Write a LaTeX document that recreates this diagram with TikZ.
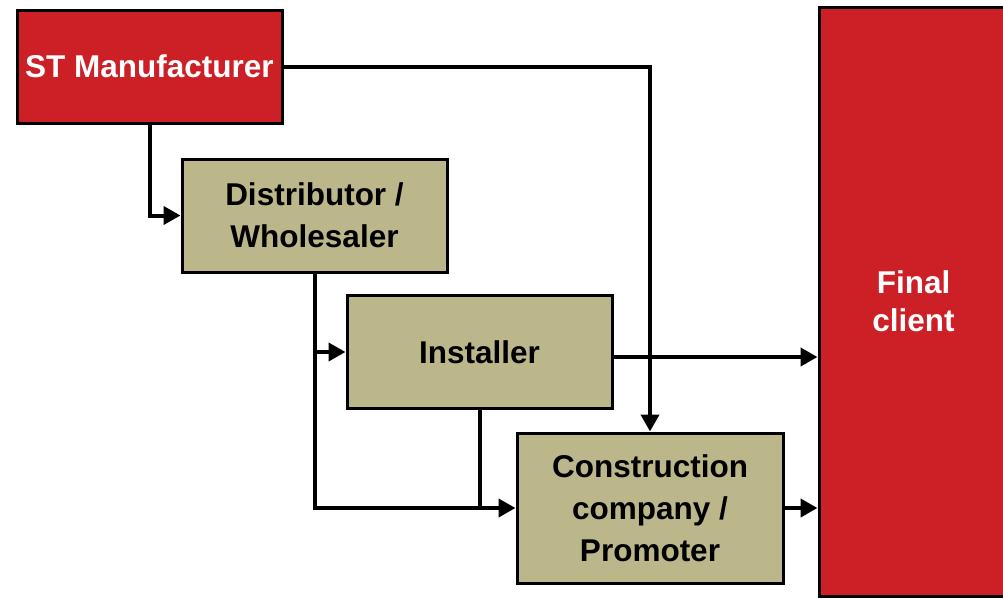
\documentclass[tikz,border=0pt]{standalone}
\usepackage{fontspec}
\setmainfont{Liberation Sans}
\usetikzlibrary{arrows.meta,calc}
\definecolor{stred}{HTML}{CC1F26}
\definecolor{khaki}{HTML}{BCB78A}
\tikzset{
  box/.style={draw=black, line width=3pt, inner sep=0pt, align=center,
    font=\fontsize{31.5}{42}\selectfont\bfseries},
  redbox/.style={box, fill=stred, text=white},
  tanbox/.style={box, fill=khaki, text=black},
  link/.style={draw=black, line width=4pt},
  arr/.style={link, -{Triangle[length=17pt,width=18pt]}},
}
\begin{document}
\begin{tikzpicture}[x=1pt,y=-1pt]
\useasboundingbox (0,0) rectangle (1003,597);
\begin{scope}
\clip (0,0) rectangle (1003,597);
\node[redbox, minimum width=189pt, minimum height=589pt,
  font=\fontsize{31.5}{38}\selectfont\bfseries] (fin) at (913.5,301.5) {Final\\client};
\end{scope}
\node[redbox, minimum width=265pt, minimum height=113pt] (st) at (149.5,66.5) {ST Manufacturer};
\node[tanbox, minimum width=265pt, minimum height=113pt] (dist) at (314.5,215.5) {Distributor /\\Wholesaler};
\node[tanbox, minimum width=265pt, minimum height=113pt] (inst) at (479.5,352) {Installer};
\node[tanbox, minimum width=266pt, minimum height=150pt] (cons) at (650,508) {Construction\\company /\\Promoter};
\coordinate (join) at (inst.south |- cons.west);
% manufacturer channels
\draw[arr] (st.south) |- (dist.west);
\draw[arr] (st.east) -| (cons.north);
% distributor channels
\draw[arr] (dist.south) |- (inst.west);
\draw[arr] (dist.south) |- (cons.west);
% installer channels
\draw[link] (inst.south) -- (join);
\draw[arr] ([yshift=-5pt]inst.east) -- ([yshift=-5pt]inst.east -| fin.west);
% construction company channel
\draw[arr] (cons.east) -- (cons.east -| fin.west);
\end{tikzpicture}
\end{document}
